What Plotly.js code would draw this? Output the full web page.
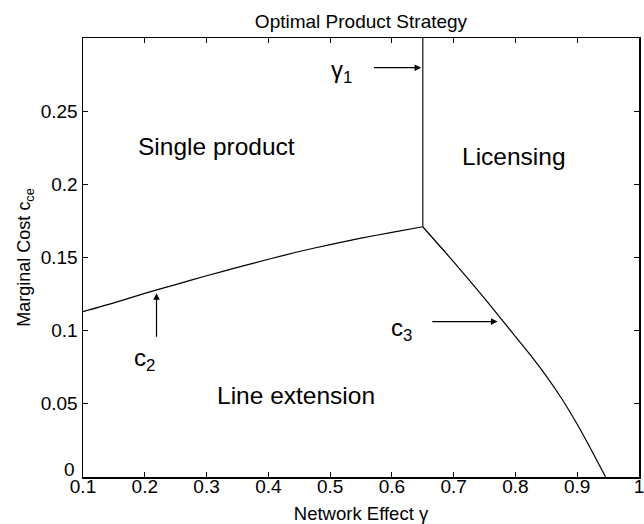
<!DOCTYPE html>
<html>
<head>
<meta charset="utf-8">
<script src="https://cdn.plot.ly/plotly-3.0.1.min.js"></script>
<style>html,body{margin:0;padding:0;background:#fff;}#chart{width:644px;height:524px;}</style>
</head>
<body>
<div id="chart"></div>
<script>
// Boundary c2 (single product / line extension)
var gammaC2 = [0.1, 0.15, 0.2, 0.25, 0.3, 0.35, 0.4, 0.45, 0.5, 0.55, 0.6, 0.65];
var costC2  = [0.113, 0.119, 0.1255, 0.1315, 0.1375, 0.1432, 0.1488, 0.1541, 0.1588, 0.1632, 0.1672, 0.171];
// Boundary c3 (line extension / licensing)
var gammaC3 = [0.65, 0.7, 0.75, 0.8, 0.825, 0.85, 0.875, 0.9, 0.925, 0.946];
var costC3  = [0.171, 0.147, 0.122, 0.096, 0.083, 0.069, 0.0535, 0.036, 0.0168, 0];
// Boundary gamma1 (single product / licensing)
var gammaG1 = [0.65, 0.65];
var costG1  = [0.171, 0.3];

var xTicks = [0.1, 0.2, 0.3, 0.4, 0.5, 0.6, 0.7, 0.8, 0.9, 1];
var xTickText = ['0.1', '0.2', '0.3', '0.4', '0.5', '0.6', '0.7', '0.8', '0.9', '1'];
var yTicks = [0, 0.05, 0.1, 0.15, 0.2, 0.25];
var yTickText = ['0', '0.05', '0.1', '0.15', '0.2', '0.25'];

var FONT = 'Liberation Sans, Arial, Helvetica, sans-serif';
var TICK_SIZE = 19;
var lineStyle = {color: '#000', width: 1.2, shape: 'spline', smoothing: 0.6};

var traces = [
  {x: gammaC2, y: costC2, mode: 'lines', line: lineStyle, hoverinfo: 'skip'},
  {x: gammaC3, y: costC3, mode: 'lines', line: lineStyle, hoverinfo: 'skip'},
  {x: gammaG1, y: costG1, mode: 'lines', line: {color: '#333', width: 1.4}, hoverinfo: 'skip'}
];

function arrow(x, y, ax, ay) {
  return {x: x, y: y, ax: ax, ay: ay, xref: 'x', yref: 'y', axref: 'x', ayref: 'y',
    text: '', showarrow: true, arrowhead: 2, arrowsize: 1.1, arrowwidth: 1.2, arrowcolor: '#000', standoff: 0};
}
function label(x, y, txt, size) {
  return {x: x, y: y, xref: 'x', yref: 'y', text: txt, showarrow: false,
    font: {family: FONT, size: size, color: '#000'}, xanchor: 'center', yanchor: 'middle'};
}

// first y tick label sits just above the axis line, as in the reference
var yTickTextShown = yTickText.map(function (t, i) { return i === 0 ? '' : t; });
var zeroLabel = {x: 0, xref: 'paper', y: yTicks[0], yref: 'y', text: yTickText[0], showarrow: false,
  xanchor: 'right', yanchor: 'middle', xshift: -6, yshift: 8,
  font: {family: FONT, size: TICK_SIZE, color: '#000'}};

var layout = {
  width: 644, height: 524,
  margin: {l: 83, r: 5, t: 38, b: 47, pad: 0},
  paper_bgcolor: '#fff', plot_bgcolor: '#fff',
  showlegend: false,
  font: {family: FONT, size: TICK_SIZE, color: '#000'},
  title: {text: 'Optimal Product Strategy', x: 0.5, xref: 'paper', xanchor: 'center',
          y: 0.96, yref: 'container', yanchor: 'middle', font: {family: FONT, size: 19, color: '#000'}},
  xaxis: {
    range: [0.1, 1], tickvals: xTicks, ticktext: xTickText,
    ticks: 'inside', ticklen: 5, tickwidth: 1, tickcolor: '#000',
    showline: true, linecolor: '#000', linewidth: 1.5, mirror: 'ticks',
    showgrid: false, zeroline: false, ticklabelstandoff: -8, ticklabeloverflow: 'allow',
    tickfont: {family: FONT, size: TICK_SIZE, color: '#000'},
    title: {text: 'Network Effect γ', font: {family: FONT, size: 18.5, color: '#000'}, standoff: 12}
  },
  yaxis: {
    range: [0, 0.3], tickvals: yTicks, ticktext: yTickTextShown,
    ticks: 'inside', ticklen: 5, tickwidth: 1, tickcolor: '#000',
    showline: true, linecolor: '#000', linewidth: 1.5, mirror: 'ticks',
    showgrid: false, zeroline: false,
    tickfont: {family: FONT, size: TICK_SIZE, color: '#000'},
    title: {text: 'Marginal Cost c<sub>ce</sub>', font: {family: FONT, size: 18, color: '#000'}, standoff: 5}
  },
  annotations: [
    zeroLabel,
    label(0.3165, 0.2258, 'Single product', 24.5),
    label(0.797, 0.219, 'Licensing', 24.5),
    label(0.444, 0.056, 'Line extension', 24.5),
    label(0.518, 0.277, 'γ<sub>1</sub>', 24),
    label(0.2, 0.080, 'c<sub>2</sub>', 24),
    label(0.615, 0.1005, 'c<sub>3</sub>', 24),
    arrow(0.6475, 0.2797, 0.5685, 0.2797),
    arrow(0.219, 0.1256, 0.219, 0.0948),
    arrow(0.771, 0.1062, 0.663, 0.1062)
  ]
};

Plotly.newPlot('chart', traces, layout, {staticPlot: true, displayModeBar: false});
</script>
</body>
</html>
